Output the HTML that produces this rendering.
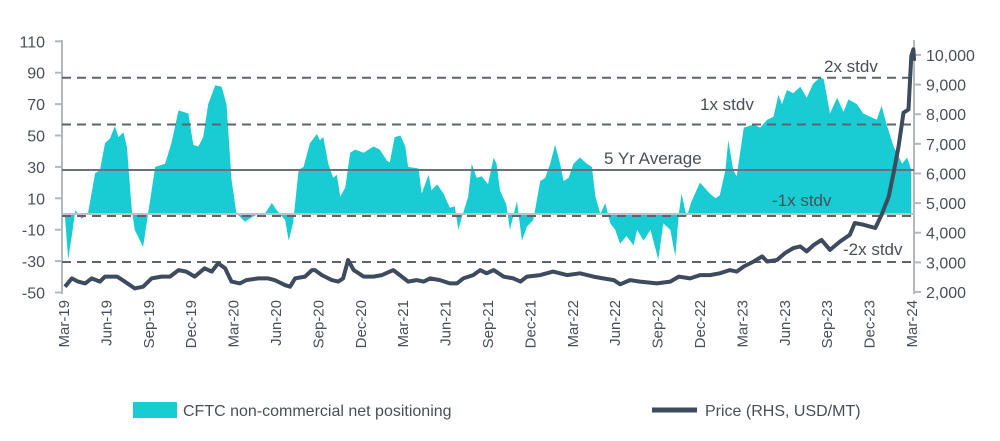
<!DOCTYPE html>
<html><head><meta charset="utf-8"><style>
body{margin:0;background:#fff;font-family:"Liberation Sans",sans-serif}
svg text{font-family:"Liberation Sans",sans-serif;fill:#4a4f57}
</style></head><body>
<svg id="c" width="1000" height="436" viewBox="0 0 1000 436" xmlns="http://www.w3.org/2000/svg">
<g id="fillG"></g>
<g id="axes"></g>
<g id="lines"></g>
<g id="priceG"></g>
<g id="legend">
<rect x="133" y="402" width="44" height="16" fill="#19cbd3"/>
<text x="183" y="416" font-size="16">CFTC non-commercial net positioning</text>
<line x1="652" y1="410" x2="697" y2="410" stroke="#3e4b5f" stroke-width="5"/>
<text x="705" y="416" font-size="16">Price (RHS, USD/MT)</text>
</g>
</svg>
<script>
// Net positioning: months since Mar-2019, values (contracts k)
const posT=[0.07,0.3,0.55,0.8,1.25,1.7,2.2,2.55,2.9,3.25,3.6,3.85,4.2,4.45,4.8,5.0,5.6,5.95,6.45,7.15,7.6,8.1,8.8,9.15,9.5,9.85,10.2,10.7,11.15,11.5,11.85,12.2,12.8,13.3,13.75,14.2,14.7,15.05,15.65,15.9,16.2,16.6,16.95,17.4,17.9,18.1,18.35,18.7,19.05,19.3,19.55,19.9,20.25,20.6,21.2,21.9,22.35,22.85,23.05,23.4,23.8,24.15,24.35,25.1,25.3,25.8,26.0,26.4,26.85,27.3,27.65,27.9,28.25,28.6,28.85,29.2,29.55,30.0,30.4,30.6,30.85,31.3,31.55,32.05,32.4,32.75,33.2,33.7,34.05,34.4,34.75,35.1,35.35,35.7,36.05,36.5,37.0,37.35,37.6,37.95,38.3,38.65,39.0,39.35,39.8,40.3,40.55,41.0,41.5,42.05,42.4,42.9,43.25,43.5,43.7,44.05,44.4,45.0,45.7,46.1,46.4,46.8,47.0,47.35,47.6,48.1,48.8,49.25,49.75,50.2,50.55,50.8,51.15,51.6,52.1,52.55,53.0,53.5,53.75,54.2,54.7,55.15,55.5,56.1,56.55,57.05,57.5,57.85,58.2,58.7,59.3,59.65,59.95];
const posV=[-2,-29,-14,2.5,-3,0.4,26,28,45,48,56,49,52,43,2.5,-10,-21,0.4,30,32,45,66,64,44,43,49,70,82,81,70,22,0.4,-5,-2,0,0,7,2.5,-4,-17,-6,28,30,45,51,47,49,32,23,25,11,17,39,41,39,43,41,34,33,49,50,43,30,29,13,25,15,19,13,4,5,-10,1,11,32,23,24,19,36,32,15,6,-10,8,-17,-8,-4,21,23,32,44,32,21,23,32,36,32,30,11,0,7,-6,-10,-19,-14,-20,-10,-17,-10,-29,-6,-10,-27,0,13,-2,8,20,13,10,12,28,47,28,24,55,57,55,60,62,76,70,79,77,81,74,83,87,86,64,74,65,73,70,64,62,60,69,57,43,32,36,28];
// Price (USD/MT)
const priceT=[0.07,0.55,1.0,1.5,1.95,2.55,2.9,3.75,4.3,5.0,5.6,6.2,6.9,7.5,8.1,8.65,9.25,9.95,10.45,10.9,11.4,11.85,12.45,12.9,13.75,14.45,14.9,15.65,16.0,16.35,17.05,17.55,17.75,18.25,18.95,19.4,19.75,20.1,20.5,21.2,21.9,22.5,23.3,23.9,24.35,24.95,25.45,25.9,26.6,27.3,27.8,28.25,28.95,29.45,29.9,30.4,31.1,31.8,32.3,32.75,33.7,34.6,35.6,36.5,37.45,38.15,38.9,39.35,40.05,40.75,41.95,42.9,43.5,44.3,45.0,45.7,46.4,47.1,47.6,48.1,48.8,49.4,49.75,50.45,51.0,51.6,52.1,52.55,53.05,53.6,54.2,54.9,55.6,55.95,56.55,57.4,57.85,58.35,58.7,59.05,59.4,59.75,59.95,60.1,60.15];
const priceV=[2180,2460,2350,2290,2460,2350,2520,2520,2350,2120,2180,2460,2520,2520,2740,2690,2520,2800,2690,2970,2800,2350,2290,2400,2460,2460,2400,2230,2180,2460,2520,2740,2740,2570,2400,2350,2460,3080,2740,2520,2520,2570,2740,2520,2350,2400,2350,2460,2400,2290,2290,2460,2570,2740,2630,2740,2520,2460,2350,2520,2570,2690,2570,2630,2520,2460,2400,2260,2400,2350,2290,2350,2520,2460,2570,2570,2630,2740,2690,2860,3030,3200,3030,3080,3310,3480,3540,3370,3590,3760,3420,3700,3930,4330,4270,4160,4610,5220,6020,6920,8050,8160,9960,10190,9800];
const leftTicks=[110,90,70,50,30,10,-10,-30,-50];
const rightTicks=[10000,9000,8000,7000,6000,5000,4000,3000,2000];
const xLabels=["Mar-19","Jun-19","Sep-19","Dec-19","Mar-20","Jun-20","Sep-20","Dec-20","Mar-21","Jun-21","Sep-21","Dec-21","Mar-22","Jun-22","Sep-22","Dec-22","Mar-23","Jun-23","Sep-23","Dec-23","Mar-24"];
const refNames=["2x stdv","1x stdv","5 Yr Average","-1x stdv","-2x stdv"];
const refVals=[86.8,57,28,-1.3,-30.6];

const NS="http://www.w3.org/2000/svg";
const X=t=>64+t*(912-64)/60;
const YL=v=>214-1.57*v;
const YR=p=>292-(p-2000)*0.02963;
function mk(tag,attrs,parent){const e=document.createElementNS(NS,tag);for(const k in attrs)e.setAttribute(k,attrs[k]);parent.appendChild(e);return e;}

// area
let d="M"+X(posT[0])+","+YL(0);
posT.forEach((t,i)=>{d+=" L"+X(t).toFixed(1)+","+YL(posV[i]).toFixed(1);});
d+=" L"+X(posT[posT.length-1])+","+YL(0)+" Z";
const area=mk("path",{d:d,fill:"#19cbd3"},document.getElementById("fillG"));



// axes
const ax=document.getElementById("axes");
let l=mk("line",{x1:62,y1:40,x2:62,y2:294,stroke:"#b5b8bc","stroke-width":2},ax);


l=mk("line",{x1:914,y1:40,x2:914,y2:294,stroke:"#b5b8bc","stroke-width":2},ax);


l=mk("line",{x1:62,y1:YL(0),x2:914,y2:YL(0),stroke:"#bfc2c5","stroke-width":2},ax);


leftTicks.forEach(v=>{
 const tk=mk("line",{x1:55,y1:YL(v),x2:62,y2:YL(v),stroke:"#b5b8bc","stroke-width":2},ax);
 
 
 const tx=mk("text",{x:45,y:YL(v)+6,"font-size":16,"text-anchor":"end"},ax);tx.textContent=v;
 
 
});
rightTicks.forEach(v=>{
 const tk=mk("line",{x1:914,y1:YR(v),x2:921,y2:YR(v),stroke:"#b5b8bc","stroke-width":2},ax);
 
 
 const tx=mk("text",{x:926,y:YR(v)+6,"font-size":16},ax);tx.textContent=v.toLocaleString("en-US");
 
 
});
xLabels.forEach((s,i)=>{
 const x=X(i*3);
 const tx=mk("text",{x:0,y:0,"font-size":15,"text-anchor":"end",transform:`translate(${x+5},300) rotate(-90)`},ax);tx.textContent=s;
 
 
});

// reference lines
const lg=document.getElementById("lines");
const labelPos=[[824,72],[700,110],[604,164],[772,206],[843,255]];
refVals.forEach((v,i)=>{
 const isAvg=i===2;
 const ln=mk("line",{x1:62,y1:YL(v),x2:914,y2:YL(v),stroke:isAvg?"#6b7079":"#5d646e","stroke-width":2,"stroke-dasharray":isAvg?"none":"9,6"},lg);
 
 
 const tx=mk("text",{x:labelPos[i][0],y:labelPos[i][1],"font-size":17},lg);tx.textContent=refNames[i];
 
 
});

// price
let pd="";
priceT.forEach((t,i)=>{pd+=(i?" L":"M")+X(t).toFixed(1)+","+YR(priceV[i]).toFixed(1);});
const pl=mk("path",{d:pd,fill:"none",stroke:"#3e4b5f","stroke-width":4,"stroke-linejoin":"round"},document.getElementById("priceG"));


</script>
</body></html>
